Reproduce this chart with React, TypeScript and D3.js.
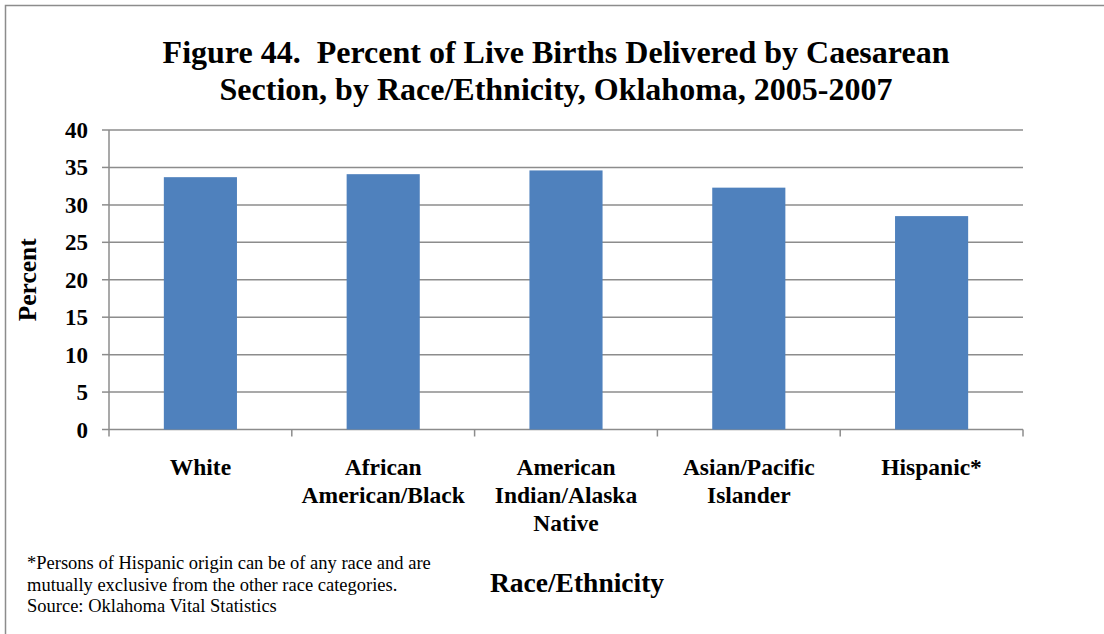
import React from "react";
import * as d3 from "d3";

const categories = ["White", "African American/Black", "American Indian/Alaska Native", "Asian/Pacific Islander", "Hispanic*"];
const categoryLines = [["White"], ["African", "American/Black"], ["American", "Indian/Alaska", "Native"], ["Asian/Pacific", "Islander"], ["Hispanic*"]];
const values = [33.7, 34.1, 34.6, 32.3, 28.5];
const yTicks = [0, 5, 10, 15, 20, 25, 30, 35, 40];
const titleLines = ["Figure 44.  Percent of Live Births Delivered by Caesarean", "Section, by Race/Ethnicity, Oklahoma, 2005-2007"];
const footnoteLines = ["*Persons of Hispanic origin can be of any race and are", "mutually exclusive from the other race categories.", "Source: Oklahoma Vital Statistics"];

const W = 1104, H = 634;
const left = 109, right = 1023, top = 130, bottom = 429.5;
const font = "'Liberation Serif', 'Times New Roman', serif";

export default function App() {
  const x = d3.scaleBand<string>().domain(categories).range([left, right]).paddingInner(0.6).paddingOuter(0.3);
  const xb = d3.scaleBand<string>().domain(categories).range([left, right]);
  const y = d3.scaleLinear().domain([0, 40]).range([bottom, top]);
  const grid = "#8c8c8c";
  return (
    <svg width={W} height={H} style={{ position: "absolute", left: 0, top: 0, background: "#fff" }} fontFamily={font}>
      <rect x={5.5} y={5.5} width={W + 10} height={H + 10} fill="none" stroke="#8c8c8c" strokeWidth={1.5} />
      {titleLines.map((t, i) => (
        <text key={i} x={556} y={63 + i * 37} textAnchor="middle" fontSize={32} fontWeight="bold" fill="#000" style={{ whiteSpace: "pre" }}>{t}</text>
      ))}
      {yTicks.map((t) => (
        <g key={t}>
          <line x1={left} x2={right} y1={y(t)} y2={y(t)} stroke={grid} strokeWidth={1.5} />
          <line x1={left - 7} x2={left} y1={y(t)} y2={y(t)} stroke={grid} strokeWidth={1.5} />
          <text x={88} y={y(t) + 8} textAnchor="end" fontSize={23} fontWeight="bold">{t}</text>
        </g>
      ))}
      <line x1={left} x2={left} y1={top} y2={bottom} stroke={grid} strokeWidth={1.5} />
      {categories.map((c, i) => (
        <rect key={c} x={x(c)} y={y(values[i])} width={x.bandwidth()} height={bottom - y(values[i])} fill="#4F81BD" />
      ))}
      {[...categories.map((c) => xb(c) as number), right].map((px, i) => (
        <line key={i} x1={px} x2={px} y1={bottom} y2={bottom + 7} stroke={grid} strokeWidth={1.5} />
      ))}
      {categories.map((c, i) => (
        <text key={c} x={(xb(c) as number) + xb.bandwidth() / 2} textAnchor="middle" fontSize={23.5} fontWeight="bold">
          {categoryLines[i].map((l, j) => (
            <tspan key={j} x={(xb(c) as number) + xb.bandwidth() / 2} y={475 + j * 28}>{l}</tspan>
          ))}
        </text>
      ))}
      <text transform={`translate(36,${(top + bottom) / 2}) rotate(-90)`} textAnchor="middle" fontSize={25.5} fontWeight="bold">Percent</text>
      <text x={577} y={592} textAnchor="middle" fontSize={27.5} fontWeight="bold">Race/Ethnicity</text>
      {footnoteLines.map((l, i) => (
        <text key={i} x={27} y={569 + i * 21.5} fontSize={18.5}>{l}</text>
      ))}
    </svg>
  );
}
